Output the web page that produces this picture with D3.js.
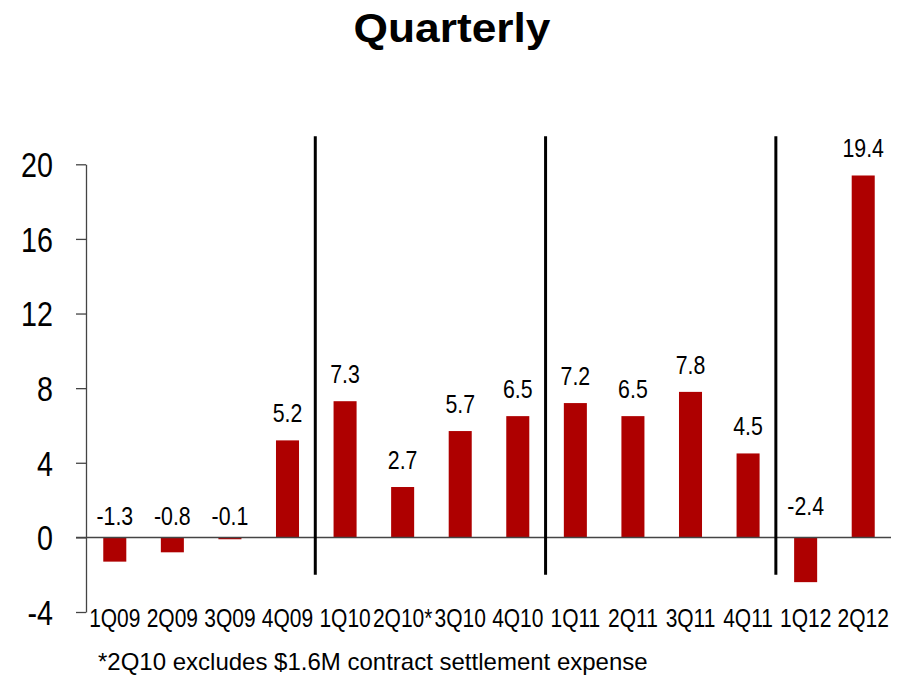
<!DOCTYPE html>
<html>
<head>
<meta charset="utf-8">
<script src="https://cdn.jsdelivr.net/npm/d3@7/dist/d3.min.js"></script>
<style>
  html, body { margin: 0; padding: 0; background: #ffffff; }
  svg { display: block; }
  text { font-family: "Liberation Sans", Arial, sans-serif; fill: #000; }
  .title { font-weight: bold; }
</style>
</head>
<body>
<svg id="chart" width="898" height="679"></svg>
<script>
// Quarterly values
const quarters = ["1Q09", "2Q09", "3Q09", "4Q09", "1Q10", "2Q10*", "3Q10", "4Q10",
                  "1Q11", "2Q11", "3Q11", "4Q11", "1Q12", "2Q12"];
const values = [-1.3, -0.8, -0.1, 5.2, 7.3, 2.7, 5.7, 6.5, 7.2, 6.5, 7.8, 4.5, -2.4, 19.4];
const yTicks = [-4, 0, 4, 8, 12, 16, 20];
// year dividers drawn after the last quarter of each year
const yearEnds = ["4Q09", "4Q10", "4Q11"];
const titleText = "Quarterly";
const footnote = "*2Q10 excludes $1.6M contract settlement expense";

// narrow face: regular sans squeezed horizontally
const NARROW = 0.82;

const svg = d3.select("#chart");

const x = d3.scaleBand()
  .domain(quarters)
  .range([86, 892])
  .paddingInner(0.6)
  .paddingOuter(0.3);

const y = d3.scaleLinear()
  .domain([-4, 20])
  .range([612, 164.3]);

// title
svg.append("text")
  .attr("class", "title")
  .attr("transform", "translate(452,42) scale(1.08,1)")
  .attr("text-anchor", "middle")
  .style("font-size", "41px")
  .text(titleText);

// y axis
const yAxis = d3.axisLeft(y)
  .tickValues(yTicks)
  .tickSize(10)
  .tickSizeOuter(0)
  .tickPadding(0)
  .tickFormat(d => String(d));

const gy = svg.append("g")
  .attr("transform", "translate(86,0)")
  .call(yAxis);
gy.select(".domain").attr("stroke", "#444").attr("stroke-width", 1.3);
gy.selectAll(".tick line").attr("stroke", "#444").attr("stroke-width", 1.3);
gy.selectAll(".tick text")
  .attr("x", 0)
  .attr("dy", "0.35em")
  .attr("transform", `translate(-33,0) scale(${NARROW},1)`)
  .attr("fill", "#000")
  .style("font-size", "35px")
  .style("font-family", '"Liberation Sans", Arial, sans-serif');

// bars
svg.append("g")
  .selectAll("rect")
  .data(values)
  .join("rect")
  .attr("x", (d, i) => x(quarters[i]))
  .attr("width", x.bandwidth())
  .attr("y", d => y(Math.max(0, d)))
  .attr("height", d => Math.abs(y(d) - y(0)))
  .attr("fill", "#ae0000");

// zero line
svg.append("line")
  .attr("x1", 76).attr("x2", 891)
  .attr("y1", y(0)).attr("y2", y(0))
  .attr("stroke", "#444")
  .attr("stroke-width", 1.5);

// year dividers
const gap = x.step() - x.bandwidth();
svg.append("g")
  .selectAll("line")
  .data(yearEnds)
  .join("line")
  .attr("x1", d => x(d) + x.bandwidth() + gap / 2 - 1)
  .attr("x2", d => x(d) + x.bandwidth() + gap / 2 - 1)
  .attr("y1", y(21.5))
  .attr("y2", y(-2))
  .attr("stroke", "#000")
  .attr("stroke-width", 3);

// value labels
svg.append("g")
  .selectAll("text")
  .data(values)
  .join("text")
  .attr("transform", (d, i) => {
    const cx = x(quarters[i]) + x.bandwidth() / 2;
    const cy = d >= 0 ? y(d) - 18 : (d < -2 ? y(0) - 22 : y(0) - 12);
    return `translate(${cx},${cy}) scale(${NARROW},1)`;
  })
  .attr("text-anchor", "middle")
  .style("font-size", "26px")
  .text(d => d.toFixed(1));

// category labels
svg.append("g")
  .selectAll("text")
  .data(quarters)
  .join("text")
  .attr("transform", d => `translate(${x(d) + x.bandwidth() / 2},627) scale(${NARROW},1)`)
  .attr("text-anchor", "middle")
  .style("font-size", "25.6px")
  .text(d => d);

// footnote
svg.append("text")
  .attr("x", 98)
  .attr("y", 670)
  .style("font-size", "24px")
  .text(footnote);
</script>
</body>
</html>
